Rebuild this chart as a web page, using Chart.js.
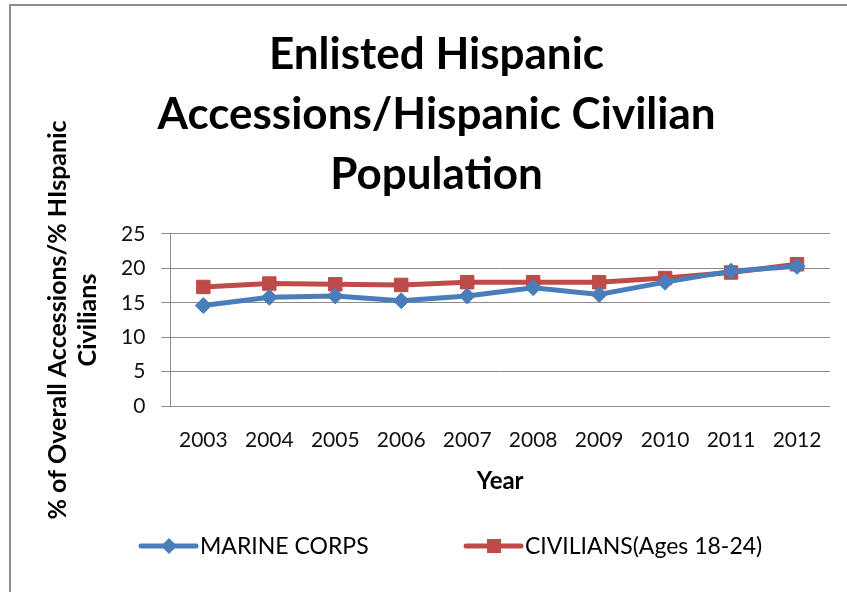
<!DOCTYPE html>
<html>
<head>
<meta charset="utf-8">
<script src="https://cdn.jsdelivr.net/npm/chart.js@4/dist/chart.umd.min.js"></script>
<style>
  html, body { margin: 0; padding: 0; background: #fff; overflow: hidden; }
  #wrap { position: relative; width: 847px; height: 592px; }
  #frame { position: absolute; left: 9px; top: 4px; width: 900px; height: 700px;
           border-left: 2px solid #8e8e8e; border-top: 2px solid #8e8e8e; }
  canvas { position: absolute; left: 0; top: 0; }
</style>
</head>
<body>
<div id="wrap">
  <div id="frame"></div>
  <canvas id="c" width="847" height="592"></canvas>
</div>
<script>
const years = ['2003','2004','2005','2006','2007','2008','2009','2010','2011','2012'];
const marineCorps = [14.6, 15.8, 16.0, 15.3, 16.0, 17.2, 16.2, 18.0, 19.6, 20.3];
const civilians = [17.3, 17.8, 17.7, 17.6, 18.0, 18.0, 18.0, 18.6, 19.4, 20.6];
const yTicks = [0, 5, 10, 15, 20, 25];
const seriesNames = ['MARINE CORPS', 'CIVILIANS(Ages 18-24)'];
const titleLines = ['Enlisted Hispanic', 'Accessions/Hispanic Civilian', 'Population'];
const yTitleLines = ['% of Overall Accessions/% HIspanic', 'Civilians'];
const xTitle = 'Year';

const BLUE = '#4A7EBB';
const RED = '#BE4B48';
const FONT = 'Lato, "Open Sans", sans-serif';

const legendPlugin = {
  id: 'customLegend',
  afterDraw(chart) {
    const ctx = chart.ctx;
    const starts = [139, 464];
    const y = 546;
    chart.data.datasets.forEach((ds, i) => {
      const x0 = starts[i];
      ctx.save();
      ctx.strokeStyle = ds.borderColor;
      ctx.lineWidth = 5;
      ctx.lineCap = 'round';
      ctx.beginPath();
      ctx.moveTo(x0 + 2, y);
      ctx.lineTo(x0 + 57, y);
      ctx.stroke();
      ctx.fillStyle = ds.pointBackgroundColor;
      const cx = x0 + 30;
      ctx.beginPath();
      if (ds.pointStyle === 'rectRot') {
        ctx.moveTo(cx, y - 8); ctx.lineTo(cx + 8, y); ctx.lineTo(cx, y + 8); ctx.lineTo(cx - 8, y);
      } else {
        ctx.rect(cx - 7, y - 7, 14, 14);
      }
      ctx.closePath();
      ctx.fill();
      ctx.fillStyle = '#000';
      ctx.font = '23px ' + FONT;
      ctx.textBaseline = 'middle';
      ctx.textAlign = 'left';
      ctx.fillText(ds.label, x0 + 61, y + 1);
      ctx.restore();
    });
  }
};

new Chart(document.getElementById('c'), {
  type: 'line',
  data: {
    labels: years,
    datasets: [
      {
        label: seriesNames[0],
        data: marineCorps,
        borderColor: BLUE,
        backgroundColor: BLUE,
        pointBackgroundColor: BLUE,
        pointBorderColor: BLUE,
        borderWidth: 5,
        pointStyle: 'rectRot',
        pointRadius: 8,
        pointBorderWidth: 1,
        tension: 0
      },
      {
        label: seriesNames[1],
        data: civilians,
        borderColor: RED,
        backgroundColor: RED,
        pointBackgroundColor: RED,
        pointBorderColor: RED,
        borderWidth: 5,
        pointStyle: 'rect',
        pointRadius: 9.5,
        pointBorderWidth: 1,
        tension: 0
      }
    ]
  },
  options: {
    responsive: false,
    animation: false,
    layout: { padding: { left: 43, right: 17, top: 25, bottom: 99 } },
    plugins: {
      legend: { display: false },
      tooltip: { enabled: false },
      title: {
        display: true,
        text: titleLines,
        color: '#000',
        font: { family: FONT, size: 44, weight: 'bold', lineHeight: 60 / 44 },
        padding: { top: 0, bottom: 29 }
      }
    },
    scales: {
      x: {
        offset: true,
        grid: { display: false, drawTicks: false },
        border: { display: false },
        ticks: { color: '#111', font: { family: FONT, size: 21, lineHeight: 1 }, padding: 24, maxRotation: 0, autoSkip: false },
        title: { display: true, text: xTitle, color: '#000', font: { family: FONT, size: 24, weight: 'bold', lineHeight: 1 }, padding: { top: -6, bottom: 0 } }
      },
      y: {
        min: 0,
        max: 25,
        afterBuildTicks(axis) { axis.ticks = yTicks.map(v => ({ value: v })); },
        grid: { color: '#8a8a8a', lineWidth: 1, tickLength: 9, drawTicks: true },
        border: { display: true, color: '#8a8a8a', width: 1 },
        ticks: { color: '#111', font: { family: FONT, size: 21 }, padding: 16 },
        title: { display: true, text: yTitleLines, color: '#000', font: { family: FONT, size: 25, weight: 'bold', lineHeight: 1.2 }, padding: { top: 0, bottom: 2 } }
      }
    }
  },
  plugins: [legendPlugin]
});
</script>
</body>
</html>
